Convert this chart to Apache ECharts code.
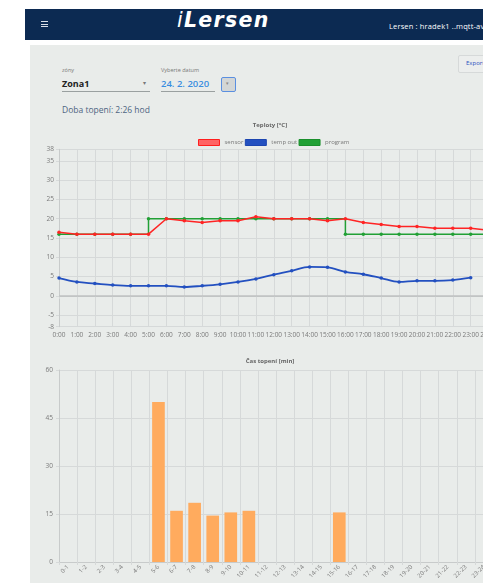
<!DOCTYPE html>
<html>
<head>
<meta charset="utf-8">
<script src="https://cdn.jsdelivr.net/npm/echarts@6/dist/echarts.min.js"></script>
<style>
  html, body { margin:0; padding:0; width:483px; height:583px; overflow:hidden; background:#fff; font-family:"Open Sans", "Noto Sans", sans-serif; }
  .abs { position:absolute; white-space:nowrap; }
  #header { left:25px; top:9px; width:480px; height:31px; background:#0c2a52; }
  #panel { left:30px; top:45px; width:470px; height:560px; background:#e9ecea; }
  .hb { position:absolute; left:41px; width:7px; height:1.4px; background:#d8dde6; }
  #chart { position:absolute; left:0; top:0; width:540px; height:583px; z-index:5; }
</style>
</head>
<body>
<div id="header" class="abs"></div>
<div class="hb" style="top:21px"></div>
<div class="hb" style="top:23.5px"></div>
<div class="hb" style="top:26px"></div>
<div class="abs" style="left:177px; top:8px; color:#fff; font-family:'DejaVu Sans',sans-serif; font-style:italic; font-weight:bold; font-size:20.5px; letter-spacing:1.3px;"><span style="font-weight:normal;">i</span>Lersen</div>
<div class="abs" style="left:389px; top:20.5px; color:#fff; font-size:7.5px; letter-spacing:0.15px;">Lersen : hradek1 ..mqtt-av</div>
<div id="panel" class="abs"></div>

<div class="abs" style="left:62px; top:66px; color:#777; font-size:5.5px;">zóny</div>
<div class="abs" style="left:62px; top:77px; color:#222; font-size:9px; font-weight:bold;">Zona1</div>
<div class="abs" style="left:143px; top:79px; color:#777; font-size:6px;">▾</div>
<div class="abs" style="left:62px; top:91px; width:88px; height:1px; background:#9aa0a0;"></div>

<div class="abs" style="left:161px; top:66px; color:#777; font-size:5.5px;">Vyberte datum</div>
<div class="abs" style="left:161px; top:77px; color:#3a8ee0; font-size:9.5px; font-weight:600;">24. 2. 2020</div>
<div class="abs" style="left:161px; top:91px; width:54px; height:1px; background:#9aa0a0;"></div>
<div class="abs" style="left:221px; top:77px; width:13px; height:13px; border:1px solid #5a8fe0; border-radius:2px; background:#d3d6d6;"></div>
<div class="abs" style="left:226px; top:80px; color:#888; font-size:5px;">▾</div>

<div class="abs" style="left:458px; top:55px; width:40px; height:16px; border:1px solid #d6d9d9; border-radius:2px; background:#eceeed;"></div>
<div class="abs" style="left:466px; top:59px; color:#2b4fbf; font-size:6px;">Export</div>

<div class="abs" style="left:62px; top:104px; color:#4e6582; font-size:8.5px;">Doba topení: 2:26 hod</div>

<div id="chart"></div>
<script>
// ---- data ----
const hourLabels = ['0:00','1:00','2:00','3:00','4:00','5:00','6:00','7:00','8:00','9:00','10:00','11:00','12:00','13:00','14:00','15:00','16:00','17:00','18:00','19:00','20:00','21:00','22:00','23:00','24:00'];
const sensorValues = [16.5,16,16,16,16,16,20,19.5,19,19.5,19.5,20.5,20,20,20,19.5,20,19,18.5,18,18,17.5,17.5,17.5,17];
const tempOutValues = [4.6,3.6,3.2,2.8,2.6,2.6,2.6,2.3,2.6,3.0,3.6,4.4,5.5,6.5,7.5,7.4,6.2,5.6,4.6,3.6,3.9,3.9,4.1,4.7,null];
const programValues = [16,16,16,16,16,20,20,20,20,20,20,20,20,20,20,20,16,16,16,16,16,16,16,16,16];
const tempTicks = [-8,-5,0,5,10,15,20,25,30,35,38];
const intervalLabels = ['0-1','1-2','2-3','3-4','4-5','5-6','6-7','7-8','8-9','9-10','10-11','11-12','12-13','13-14','14-15','15-16','16-17','17-18','18-19','19-20','20-21','21-22','22-23','23-24'];
const heatingMinutes = [0,0,0,0,0,50,16,18.5,14.5,15.5,16,0,0,0,0,15.5,0,0,0,0,0,0,0,0];
const seriesNames = ['sensor','temp out','program'];

const gridColor = '#d6d9d9';
const labelColor = '#7a7a7a';
const font = '"Open Sans", "Noto Sans", sans-serif';

const chart = echarts.init(document.getElementById('chart'), null, {renderer:'canvas'});
chart.setOption({
  animation:false,
  backgroundColor:'transparent',
  textStyle:{fontFamily:font},
  title:[
    {text:'Teploty [°C]', left:'center', top:117, textStyle:{fontSize:6, fontWeight:'bold', color:'#666', fontFamily:font}},
    {text:'Čas topení [min]', left:'center', top:353, textStyle:{fontSize:6, fontWeight:'bold', color:'#666', fontFamily:font}}
  ],
  legend:{
    left:193, top:134, itemWidth:21, itemHeight:6, itemGap:1.5, icon:'rect',
    textStyle:{fontSize:6, color:'#777', fontFamily:font},
    data:[
      {name:seriesNames[0], itemStyle:{color:'#ff6464', borderColor:'#ff1e1e', borderWidth:1}},
      {name:seriesNames[1], itemStyle:{color:'#2350c0', borderColor:'#1c45b0', borderWidth:1}},
      {name:seriesNames[2], itemStyle:{color:'#21a035', borderColor:'#1a8f2c', borderWidth:1}}
    ]
  },
  grid:[
    {left:59, top:149.3, width:429.6, height:177.4, containLabel:false},
    {left:59, top:370, width:434, height:192, containLabel:false}
  ],
  xAxis:[
    {type:'category', gridIndex:0, data:hourLabels, boundaryGap:false,
     axisLine:{show:true, lineStyle:{color:'#c8cbcb'}},
     axisTick:{show:true, length:3, lineStyle:{color:gridColor}},
     axisLabel:{fontSize:6.5, color:labelColor, margin:5, interval:0, fontFamily:font},
     splitLine:{show:true, lineStyle:{color:gridColor, width:1}}},
    {type:'category', gridIndex:1, data:intervalLabels, boundaryGap:true,
     axisLine:{show:true, lineStyle:{color:'#c8cbcb'}},
     axisTick:{show:true, length:3, lineStyle:{color:gridColor}},
     axisLabel:{fontSize:6, color:labelColor, margin:4, interval:0, rotate:45, fontFamily:font},
     splitLine:{show:true, interval:0, lineStyle:{color:gridColor, width:1}}}
  ],
  yAxis:[
    {type:'value', gridIndex:0, min:-8, max:38,
     axisLine:{show:true, lineStyle:{color:'#c8cbcb'}},
     axisTick:{show:true, length:3, customValues:tempTicks, lineStyle:{color:gridColor}},
     axisLabel:{fontSize:6.5, color:labelColor, margin:5, customValues:tempTicks, fontFamily:font},
     splitLine:{show:true, lineStyle:{color:gridColor, width:1}}},
    {type:'value', gridIndex:1, min:0, max:60, interval:15,
     axisLine:{show:true, lineStyle:{color:'#c8cbcb'}},
     axisTick:{show:true, length:3, lineStyle:{color:gridColor}},
     axisLabel:{fontSize:6.5, color:labelColor, margin:6, fontFamily:font},
     splitLine:{show:true, lineStyle:{color:gridColor, width:1}}}
  ],
  series:[
    {name:seriesNames[2], type:'line', xAxisIndex:0, yAxisIndex:0, data:programValues, step:'end',
     symbol:'circle', symbolSize:3.5, itemStyle:{color:'#21a035'}, lineStyle:{color:'#21a035', width:1.5}, z:3},
    {name:seriesNames[1], type:'line', xAxisIndex:0, yAxisIndex:0, data:tempOutValues, smooth:0.35,
     symbol:'circle', symbolSize:3.5, itemStyle:{color:'#2350c0'}, lineStyle:{color:'#2350c0', width:1.8}, z:4,
     markLine:{silent:true, symbol:'none', label:{show:false}, lineStyle:{color:'#bfc2c2', width:1.5, type:'solid'}, data:[{yAxis:0}]}},
    {name:seriesNames[0], type:'line', xAxisIndex:0, yAxisIndex:0, data:sensorValues,
     symbol:'circle', symbolSize:3.5, itemStyle:{color:'#ff2424'}, lineStyle:{color:'#ff2424', width:1.5}, z:5},
    {name:'Čas topení', type:'bar', xAxisIndex:1, yAxisIndex:1, data:heatingMinutes, barWidth:'70%',
     itemStyle:{color:'#ffab5e'}}
  ]
});
</script>
</body>
</html>
